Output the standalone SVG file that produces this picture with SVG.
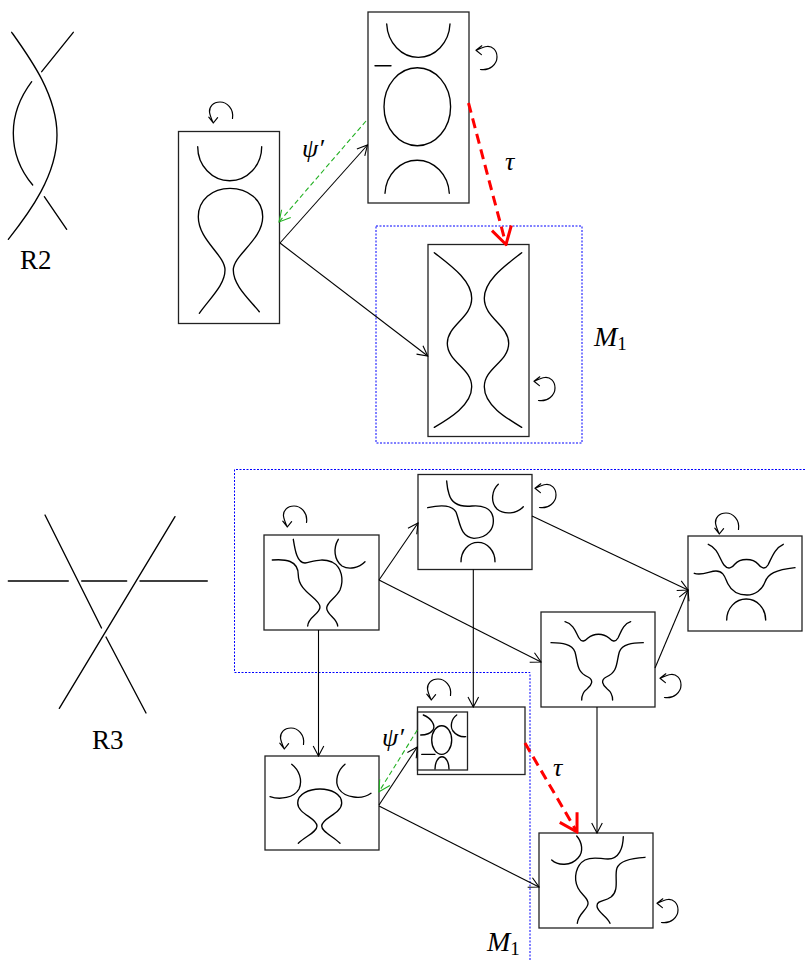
<svg xmlns="http://www.w3.org/2000/svg" width="805" height="961" viewBox="0 0 805 961">
<defs>
<style>
.box{fill:none;stroke:#222;stroke-width:1.3}
.k{fill:none;stroke:#000;stroke-width:1.35;stroke-linecap:round}
.c{fill:none;stroke:#000;stroke-width:1.1}
.g{fill:none;stroke:#22b022;stroke-width:1.1;stroke-dasharray:5 3}
.r{fill:none;stroke:#ff0000;stroke-width:3;stroke-dasharray:10 6}
.b{fill:none;stroke:#0000ff;stroke-width:1;stroke-dasharray:2 1.5}
.t{font-family:"Liberation Serif","Times New Roman",serif;fill:#000}
.rot{fill:none;stroke:#000;stroke-width:1.2;stroke-linecap:round;stroke-linejoin:round}
</style>
<marker id="ak" viewBox="-12 -7 13 14" refX="0" refY="0" markerWidth="13" markerHeight="14" markerUnits="userSpaceOnUse" orient="auto">
<path d="M-10,-5.3 L0,0 L-10,5.3" fill="none" stroke="#000" stroke-width="1.1"/>
</marker>
<marker id="ag" viewBox="-13 -8 14 16" refX="0" refY="0" markerWidth="14" markerHeight="16" markerUnits="userSpaceOnUse" orient="auto">
<path d="M-11,-6 L0,0 L-11,6" fill="none" stroke="#22b022" stroke-width="1.1"/>
</marker>
<marker id="ar" viewBox="-20 -12 22 24" refX="0" refY="0" markerWidth="22" markerHeight="24" markerUnits="userSpaceOnUse" orient="auto">
<path d="M-17,-10 L0,0 L-17,10" fill="none" stroke="#ff0000" stroke-width="3"/>
</marker>
<g id="rotA"><path class="rot" d="M11.5 6.5 C13 -3 6 -10 -1 -10 C-8 -10 -12 -5 -11.5 0 C-11 4 -9 8 -7.7 11 M-12.2 5.2 L-7.7 11 L-3.4 5.6"/></g>
</defs>

<!-- R2 -->
<g id="r2">
<path class="k" d="M11.7 32.3 C30 58 57 95 57 135 C57 175 30 212 8.3 239.3"/>
<path class="k" d="M73.3 32.3 L41.7 71.7"/>
<path class="k" d="M31.7 81.7 C18 100 13.3 118 13.3 133 C13.3 152 20 170 32.7 185"/>
<path class="k" d="M44.3 196.7 L66.7 229.3"/>
<text class="t" x="20" y="269" font-size="27">R2</text>
</g>

<!-- R3 -->
<g id="r3">
<path class="k" d="M45 515 L101.5 628 M106 637 L146 713"/>
<path class="k" d="M175 516.7 L59.3 708.3"/>
<path class="k" d="M8.3 581 H68.3 M81.7 581 H126.7 M140 581 H207.3"/>
<text class="t" x="92" y="749" font-size="27">R3</text>
</g>

<!-- top-left node -->
<g id="n_tl">
<rect class="box" x="178.5" y="131.5" width="101" height="192"/>
<path class="k" d="M197.7 146.7 A32 34 0 0 0 261.7 146.7"/>
<path class="k" d="M199.3 313.3 C210 298 225 285 225 270 C225 255 198.3 240 198.3 216.7 C198.3 200 212 188.3 230 188.3 C248 188.3 262.7 200 262.7 216.7 C262.7 240 233.3 255 233.3 270 C233.3 285 248 298 259.3 311.7"/>
<use href="#rotA" transform="translate(221,112)"/>
</g>

<!-- top-middle node -->
<g id="n_tm">
<rect class="box" x="368" y="12" width="101" height="191"/>
<path class="k" d="M386.7 24 A31.7 35.3 0 0 0 450 24"/>
<path class="k" d="M375 65.7 H391"/>
<ellipse class="k" cx="417.3" cy="106.7" rx="33.3" ry="39"/>
<path class="k" d="M385 193.3 A32.2 35 0 0 1 449.3 193.3"/>
<use href="#rotA" transform="translate(487,58) rotate(90)"/>
</g>

<!-- M1 top region -->
<g id="m1_top">
<rect class="b" x="376" y="226" width="206" height="217"/>
<text class="t" x="594" y="346"><tspan font-size="28" font-style="italic">M</tspan><tspan font-size="19" dy="4">1</tspan></text>
</g>

<!-- M1 inner node -->
<g id="n_m1">
<rect class="box" x="428" y="244.5" width="101" height="192"/>
<path class="k" d="M434.3 252.7 C450 265 471.7 280 471.7 298.3 C471.7 318 447.3 325 447.3 343.3 C447.3 362 471.7 368 471.7 386.7 C471.7 405 450 418 434.3 427.3"/>
<path class="k" d="M521.7 252.7 C506 265 484.3 280 484.3 298.3 C484.3 318 508.7 325 508.7 343.3 C508.7 362 484.3 368 484.3 386.7 C484.3 405 506 418 521.7 427.3"/>
<use href="#rotA" transform="translate(545,389) rotate(90)"/>
</g>

<!-- bottom M1 region -->
<g id="m1_bottom">
<path class="b" d="M805 469.5 H234.5 V672.5 H530 V961"/>
<text class="t" x="487" y="951"><tspan font-size="28" font-style="italic">M</tspan><tspan font-size="19" dy="4">1</tspan></text>
</g>

<!-- Box A -->
<g id="n_a">
<rect class="box" x="264" y="535" width="115" height="95"/>
<path class="k" d="M272.3 560 C285 559 298.3 560 298.3 575 C298.3 592 320 598 320 607 C320 614 308 617 307.7 626"/>
<path class="k" d="M293.3 539.3 C295 550 297 563 305 563 C315 561 322 558 332 562 C342 567 344 580 340 590 C336 598 326.7 602 326.7 608 C326.7 615 337 618 337.7 626"/>
<path class="k" d="M338.3 539.3 C333 548 334 560 342 566 C349 570 359 568 365 561.7"/>
<use href="#rotA" transform="translate(295,516)"/>
</g>

<!-- Box B -->
<g id="n_b">
<rect class="box" x="418" y="474.5" width="114" height="95"/>
<path class="k" d="M427.7 507.7 C440 505 452 505 456 512 C460 522 460 537 474 538.3 C488 538 495 528 493 517 C491 508 482 505 472 506 C462 507 452 505 449 494 C447 488 447 484 446.7 481"/>
<path class="k" d="M498.3 484.3 C492 490 490 502 497 509 C504 515 517 514 523.3 506.7"/>
<path class="k" d="M461 561.7 A17 19.4 0 0 1 495 561.7"/>
<use href="#rotA" transform="translate(546,496) rotate(90)"/>
</g>

<!-- Box C -->
<g id="n_c">
<rect class="box" x="688" y="536" width="114" height="95"/>
<path class="k" d="M708.3 544.3 C718 548 720 560 724 565 C728 570 732 568 735 564 C740 558 753 558 758 564 C761 568 765 570 768 565 C772 557 775 548 783.3 544.3"/>
<path class="k" d="M694.3 573.3 C702 576 710 571 716 571 C724 571 725 578 728 584 C732 592 740 595 747 595 C755 595 762 590 765 582 C768 574 775 570 795 567.7"/>
<path class="k" d="M726.7 620 A19.5 21 0 0 1 765.7 620"/>
<use href="#rotA" transform="translate(727,523)"/>
</g>

<!-- Box D -->
<g id="n_d">
<rect class="box" x="541" y="612" width="114" height="95"/>
<path class="k" d="M565 621.7 C574 624 576 633 579 638 C582 643 585 641 588 638 C594 633 603 633 609 638 C612 641 615 643 618 638 C621 632 623 624 630.7 621.7"/>
<path class="k" d="M551 642.7 C562 643 572 644 575 652 C578 662 576 672 588 677 C594 680 592 685 587 689 C583 692 581.7 696 581.7 700"/>
<path class="k" d="M643.3 642.7 C632.3 643 622.3 644 619.3 652 C616.3 662 618.3 672 606.3 677 C600.3 680 602.3 685 607.3 689 C611.3 692 612.6 696 612.6 700"/>
<use href="#rotA" transform="translate(671,686) rotate(90)"/>
</g>

<!-- Box E -->
<g id="n_e">
<rect class="box" x="265" y="756" width="114" height="94"/>
<path class="k" d="M291.7 764.3 C299 770 303 780 299 789 C294 798 280 800 270 796.7"/>
<path class="k" d="M345 764.3 C338 770 334 781 339 789 C345 798 362 800 371 793.3"/>
<path class="k" d="M298.3 843.3 C306 836 317 832 317 826 C317 818 297.7 814 297.7 803 C297.7 794 309 789 320 789 C331 789 341.7 794 341.7 803 C341.7 814 321.7 818 321.7 826 C321.7 832 333 836 340 843.3"/>
<use href="#rotA" transform="translate(292,738)"/>
</g>

<!-- Box F (small) -->
<g id="n_f">
<rect class="box" x="417.5" y="707" width="107.5" height="67.5"/>
<rect class="box" x="417.5" y="712" width="50" height="58"/>
<path class="k" d="M423.3 715 C431 718 436 725 433 730 C430 734 425 735 420.7 735"/>
<path class="k" d="M456.7 715 C451 719 450 727 453 731 C456 735 461 737 465.7 736.7"/>
<ellipse class="k" cx="441.7" cy="740" rx="10" ry="14.3"/>
<path class="k" d="M421.7 754.3 H435" stroke="#444" stroke-width="1.6"/>
<path class="k" d="M435 769 A7 12.3 0 0 1 449 769"/>
<use href="#rotA" transform="translate(439,689)"/>
</g>

<!-- Box G -->
<g id="n_g">
<rect class="box" x="539" y="833" width="114" height="95"/>
<path class="k" d="M576.7 836 C582 842 584 852 578 858 C571 866 558 866 551.7 860"/>
<path class="k" d="M623.3 836.7 C623 848 619 859 608 859 C600 859 593 856 585 860 C576 865 573 878 578 888 C582 896 589 898 588 904 C587 910 578 914 577.3 923.3"/>
<path class="k" d="M645 857.3 C632 858 620 860 617 868 C614 876 620 890 611 897 C604 902 597 900 597 906 C597 912 607 916 610 923.3"/>
<use href="#rotA" transform="translate(668,911) rotate(90)"/>
</g>

<!-- connectors -->
<g id="connectors">
<path class="c" d="M280 243 L367.5 145" marker-end="url(#ak)"/>
<path class="c" d="M280 243 L427.7 356" marker-end="url(#ak)"/>
<path class="g" d="M366 121 L279 222" marker-end="url(#ag)"/>
<path class="r" d="M468.5 103 L506 244.5" marker-end="url(#ar)"/>
<path class="c" d="M379 580 L418 523" marker-end="url(#ak)"/>
<path class="c" d="M379 580 L541 662" marker-end="url(#ak)"/>
<path class="c" d="M318.5 630 L318.5 756" marker-end="url(#ak)"/>
<path class="c" d="M473.3 569.5 L473.3 707" marker-end="url(#ak)"/>
<path class="c" d="M532 516 L688 590" marker-end="url(#ak)"/>
<path class="c" d="M655 668 L688 590" marker-end="url(#ak)"/>
<path class="c" d="M597 707 L597 833" marker-end="url(#ak)"/>
<path class="c" d="M379 805 L417.3 747" marker-end="url(#ak)"/>
<path class="c" d="M379 806 L539 887" marker-end="url(#ak)"/>
<path class="g" d="M417.3 730 L379 791.7" marker-end="url(#ag)"/>
<path class="r" d="M525 743 L577 832" marker-end="url(#ar)"/>
<text class="t" x="302" y="157" font-size="26" font-style="italic">ψ′</text>
<text class="t" x="505" y="170" font-size="26" font-style="italic">τ</text>
<text class="t" x="382" y="746" font-size="26" font-style="italic">ψ′</text>
<text class="t" x="553" y="776" font-size="26" font-style="italic">τ</text>
</g>
</svg>
